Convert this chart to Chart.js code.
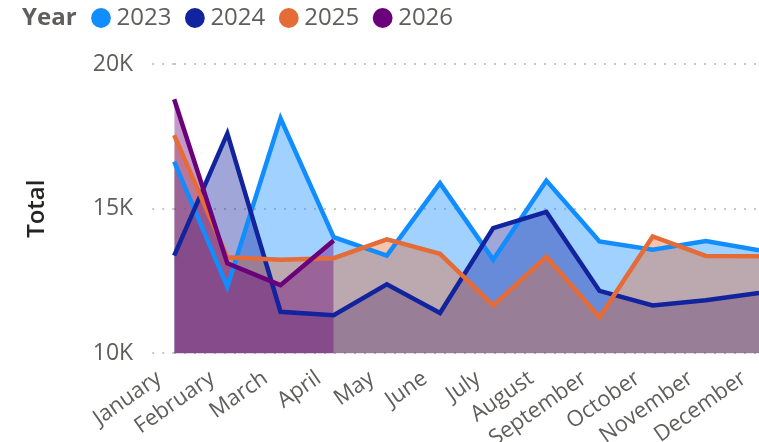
<!DOCTYPE html>
<html>
<head>
<meta charset="utf-8">
<script src="https://cdn.jsdelivr.net/npm/chart.js@4.4.1/dist/chart.umd.min.js"></script>
<style>
html,body{margin:0;padding:0;background:#ffffff;}
canvas{display:block;}
</style>
</head>
<body>
<canvas id="c" width="759" height="442"></canvas>
<script>
// ---- data ----
const months = ['January','February','March','April','May','June','July','August','September','October','November','December'];
const years = ['2023','2024','2025','2026'];
const values2023 = [16630, 12300, 18120, 14020, 13380, 15880, 13240, 15970, 13870, 13580, 13880, 13560];
const values2024 = [13380, 17600, 11440, 11320, 12390, 11400, 14330, 14890, 12160, 11660, 11840, 12090];
const values2025 = [17540, 13320, 13240, 13290, 13940, 13440, 11660, 13340, 11250, 14040, 13370, 13360];
const values2026 = [18780, 13110, 12360, 13900, null, null, null, null, null, null, null, null];
const yTickValues = [10000, 15000, 20000];
const legendTitle = 'Year';
const axisTitle = 'Total';

// ---- style ----
const FONT = "'Open Sans', 'Noto Sans', sans-serif";
const lineColors = ['#118DFF', '#12239E', '#E66C37', '#6B007B'];
const fillColors = ['rgba(17,141,255,0.4)', 'rgba(18,35,158,0.4)', 'rgba(230,108,55,0.4)', 'rgba(107,0,123,0.4)'];
const seriesValues = [values2023, values2024, values2025, values2026];

const datasets = years.map((y, i) => ({
  label: y,
  data: seriesValues[i],
  borderColor: lineColors[i],
  backgroundColor: fillColors[i],
  borderWidth: 4.5,
  pointRadius: 0,
  pointHoverRadius: 0,
  tension: 0,
  fill: 'start',
  order: years.length - i,
  spanGaps: false
}));

const legendShift = {
  id: 'legendShift',
  afterLayout(chart) {
    const l = chart.legend;
    const dx = 77.5, dy = -24;
    l.left += dx; l.right += dx; l.top += dy; l.bottom += dy;
  },
  afterDraw(chart) {
    const ctx = chart.ctx;
    ctx.save();
    ctx.font = "bold 24px " + FONT;
    ctx.fillStyle = '#605E5C';
    ctx.textBaseline = 'middle';
    ctx.textAlign = 'left';
    ctx.fillText(legendTitle, 22, 18);
    ctx.restore();
  }
};

new Chart(document.getElementById('c'), {
  type: 'line',
  data: { labels: months, datasets },
  plugins: [legendShift],
  options: {
    responsive: false,
    animation: false,
    layout: { padding: { left: 0, right: -2, top: 10, bottom: -14 } },
    plugins: {
      filler: { drawTime: 'beforeDatasetsDraw' },
      tooltip: { enabled: false },
      legend: {
        display: true,
        position: 'top',
        align: 'start',
        labels: {
          usePointStyle: true,
          pointStyle: 'circle',
          boxWidth: 7,
          boxHeight: 14,
          padding: 20,
          color: '#605E5C',
          font: { family: FONT, size: 24 },
          sort: (a, b) => a.datasetIndex - b.datasetIndex,
          generateLabels: (chart) => chart.data.datasets.map((ds, i) => ({
            text: ds.label,
            fillStyle: ds.borderColor,
            strokeStyle: ds.borderColor,
            lineWidth: 0,
            pointStyle: 'circle',
            hidden: false,
            datasetIndex: i,
            fontColor: '#605E5C'
          }))
        }
      }
    },
    scales: {
      x: {
        afterFit: (scale) => { scale.paddingRight = 0; },
        grid: { display: false },
        border: { display: false },
        ticks: {
          autoSkip: false,
          minRotation: 35,
          maxRotation: 35,
          labelOffset: -15,
          padding: 4,
          color: '#605E5C',
          font: { family: FONT, size: 22 }
        }
      },
      y: {
        min: 10000,
        max: 20000,
        afterBuildTicks: (scale) => { scale.ticks = yTickValues.map(v => ({ value: v })); },
        border: { display: false, dash: [2, 8] },
        grid: {
          color: '#C8C6C4',
          lineWidth: 2,
          drawTicks: true,
          tickLength: 22,
          tickColor: '#C8C6C4',
          tickBorderDash: [2, 8]
        },
        ticks: {
          padding: 19,
          color: '#605E5C',
          font: { family: FONT, size: 23 },
          callback: (v) => (v / 1000) + 'K'
        },
        title: {
          display: true,
          text: axisTitle,
          color: '#252423',
          font: { family: FONT, size: 24, weight: '600' },
          padding: { top: 23, bottom: 22 }
        }
      }
    }
  }
});
</script>
</body>
</html>
